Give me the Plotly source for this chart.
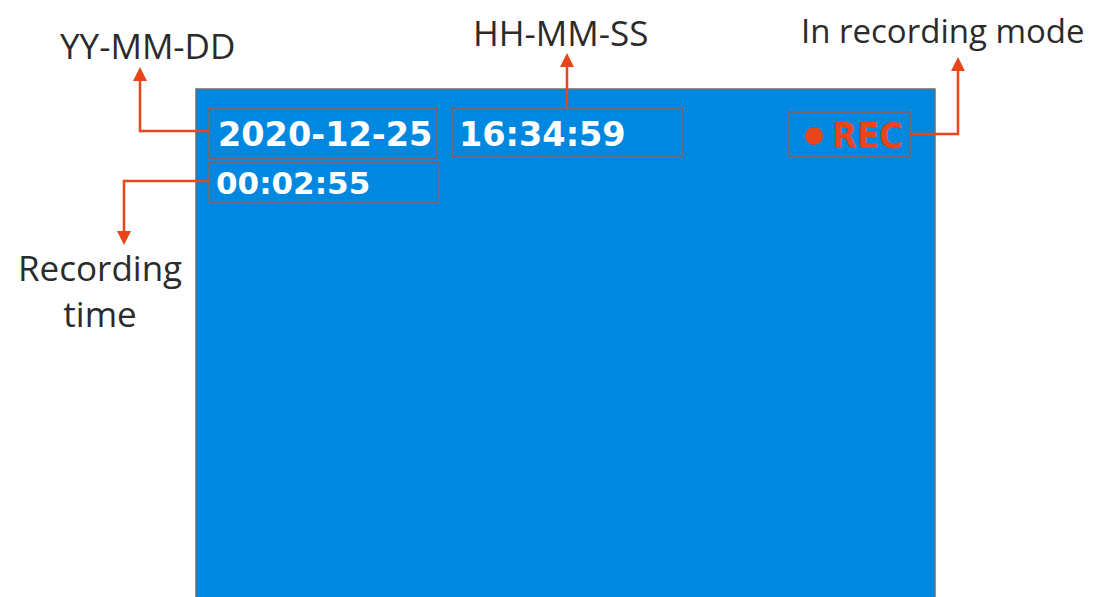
import plotly.graph_objects as go

# ---- content ----
screen_texts = ["2020-12-25", "16:34:59", "00:02:55", "REC"]
callout_labels = ["YY-MM-DD", "HH-MM-SS", "In recording mode", "Recording<br>time"]

# ---- layout constants (page pixel coords, y downward) ----
W, H = 1102, 597
OFF = 8  # default body margin of the html page
SCREEN = (196, 89, 935, 610)
BOXES = [(209, 108, 437, 158), (452, 108, 682, 157), (209, 162, 439, 202), (789, 112, 910, 156)]
TEXT_POS = [(216, 134), (457, 134), (214, 183), (830, 135)]
TEXT_SIZE = [33.5, 33.5, 31, 36]
LABEL_POS = [(147, 45), (560, 32), (943, 30), (100, 290)]
LABEL_SIZE = [35, 35, 33, 35]
CONNECTORS = [
    ([(209, 131), (140, 131), (140, 80)], "up"),
    ([(567, 108), (567, 66)], "up"),
    ([(910, 134), (958, 134), (958, 70)], "up"),
    ([(209, 181), (124, 181), (124, 232)], "down"),
]
ORANGE = "#E8461A"
BOXLINE = "#9A5E50"
BLUE = "#0088E1"

fig = go.Figure()
shapes = []
shapes.append(dict(type="rect", xref="x", yref="y", x0=SCREEN[0], y0=SCREEN[1], x1=SCREEN[2], y1=SCREEN[3],
                   fillcolor=BLUE, line=dict(color="#6E6E6E", width=1.5), layer="below"))
for b in BOXES:
    shapes.append(dict(type="rect", xref="x", yref="y", x0=b[0], y0=b[1], x1=b[2], y1=b[3],
                       line=dict(color=BOXLINE, width=1.3)))
for pts, d in CONNECTORS:
    path = "M " + " L ".join(f"{x},{y}" for x, y in pts)
    shapes.append(dict(type="path", xref="x", yref="y", path=path, line=dict(color=ORANGE, width=2.5)))
    tx, ty = pts[-1]
    if d == "up":
        tri = f"M {tx-7},{ty+1} L {tx},{ty-13} L {tx+7},{ty+1} Z"
    else:
        tri = f"M {tx-7},{ty-1} L {tx},{ty+13} L {tx+7},{ty-1} Z"
    shapes.append(dict(type="path", xref="x", yref="y", path=tri, fillcolor=ORANGE, line=dict(color=ORANGE, width=0)))
# red dot for REC
shapes.append(dict(type="circle", xref="x", yref="y", x0=805, y0=127, x1=823, y1=145, fillcolor=ORANGE,
                   line=dict(width=0)))

annotations = []
for t, (x, y), s in zip(screen_texts, TEXT_POS, TEXT_SIZE):
    if t == "REC":
        font = dict(family="DejaVu Sans Condensed, DejaVu Sans", size=s, color=ORANGE, weight="bold")
    else:
        font = dict(family="DejaVu Sans", size=s, color="white", weight="bold")
    annotations.append(dict(x=x, y=y, xref="x", yref="y", text=t, showarrow=False, xanchor="left",
                            yanchor="middle", font=font))
for t, (x, y), s in zip(callout_labels, LABEL_POS, LABEL_SIZE):
    annotations.append(dict(x=x, y=y, xref="x", yref="y", text=t, showarrow=False, xanchor="center",
                            yanchor="middle", font=dict(family="Open Sans", size=s, color="#2B2B2B")))

fig.update_layout(
    width=W - OFF, height=H - OFF, margin=dict(l=0, r=0, t=0, b=0),
    paper_bgcolor="white", plot_bgcolor="white",
    xaxis=dict(range=[OFF, W], visible=False, fixedrange=True),
    yaxis=dict(range=[H, OFF], visible=False, fixedrange=True),
    shapes=shapes, annotations=annotations, showlegend=False,
)
fig.write_html("out.html", config={"displayModeBar": False})
